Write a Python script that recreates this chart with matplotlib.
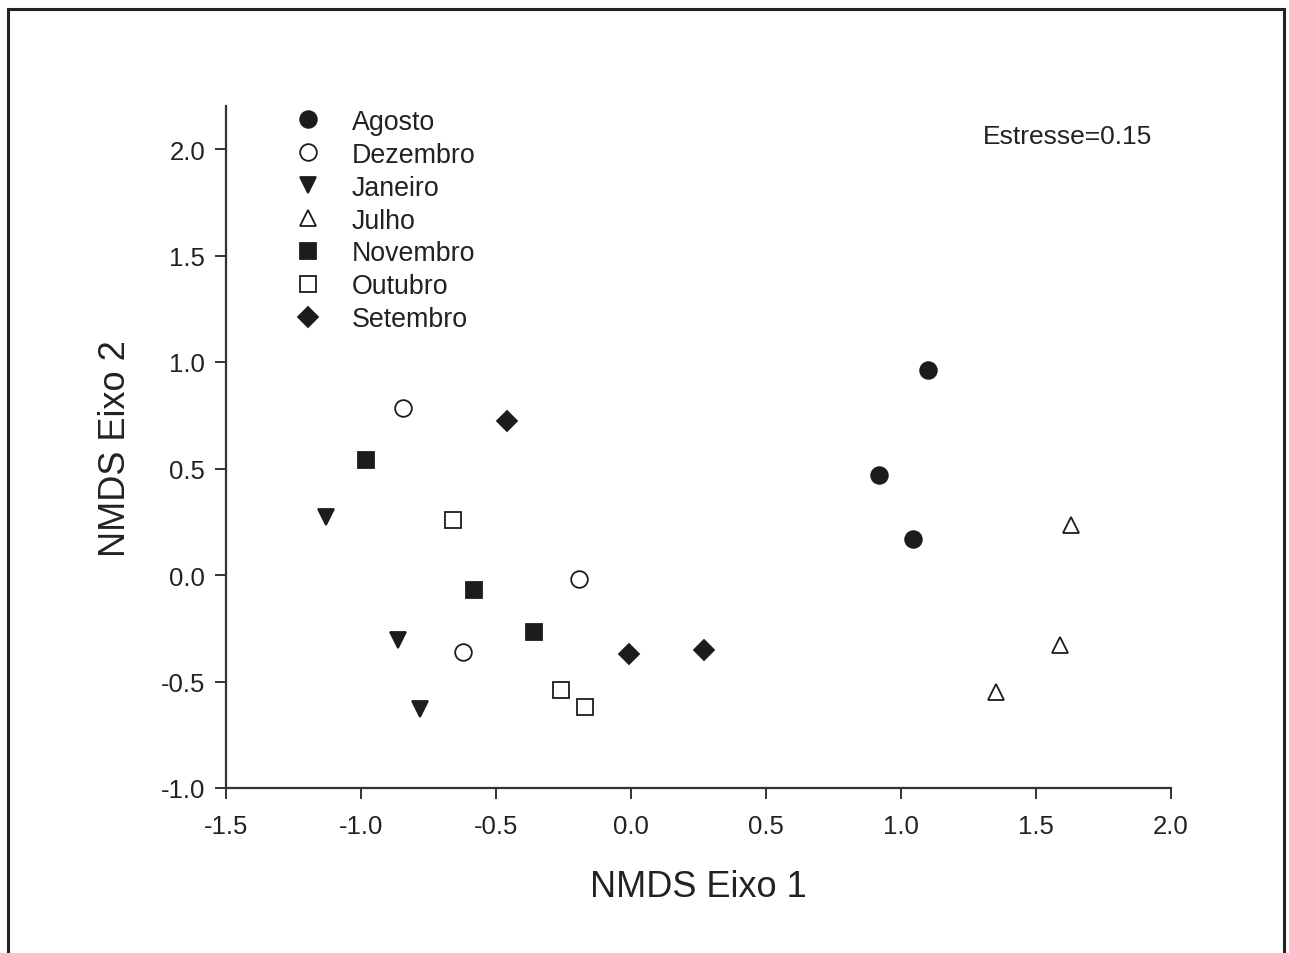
import matplotlib
matplotlib.use("Agg")
import matplotlib.pyplot as plt
from matplotlib.patches import Rectangle

plt.rcParams['font.family'] = ['Liberation Sans', 'DejaVu Sans']

months = ["Agosto", "Dezembro", "Janeiro", "Julho", "Novembro", "Outubro", "Setembro"]
x_vals = {
    "Agosto":   [1.100, 0.919, 1.044],
    "Dezembro": [-0.844, -0.193, -0.622],
    "Janeiro":  [-1.130, -0.863, -0.781],
    "Julho":    [1.630, 1.589, 1.352],
    "Novembro": [-0.981, -0.581, -0.359],
    "Outubro":  [-0.659, -0.259, -0.170],
    "Setembro": [-0.459, -0.007, 0.270],
}
y_vals = {
    "Agosto":   [0.962, 0.469, 0.169],
    "Dezembro": [0.784, -0.019, -0.362],
    "Janeiro":  [0.272, -0.305, -0.629],
    "Julho":    [0.235, -0.329, -0.549],
    "Novembro": [0.540, -0.070, -0.268],
    "Outubro":  [0.258, -0.540, -0.620],
    "Setembro": [0.723, -0.371, -0.352],
}
markers = {"Agosto": "o", "Dezembro": "o", "Janeiro": "v", "Julho": "^",
           "Novembro": "s", "Outubro": "s", "Setembro": "D"}
filled = {"Agosto": True, "Dezembro": False, "Janeiro": True, "Julho": False,
          "Novembro": True, "Outubro": False, "Setembro": True}
sizes = {"o": 12, "v": 12, "^": 12, "s": 11, "D": 10}

xticks = [-1.5, -1.0, -0.5, 0.0, 0.5, 1.0, 1.5, 2.0]
yticks = [-1.0, -0.5, 0.0, 0.5, 1.0, 1.5, 2.0]

W, H = 1289, 954
fig = plt.figure(figsize=(W / 100, H / 100), dpi=100)
ax = fig.add_axes([226 / W, 1 - 789 / H, (1171 - 226) / W, (789 - 107.4) / H])

ink = "#1c1c1c"
for m in months:
    mk = markers[m]
    ax.plot(x_vals[m], y_vals[m], linestyle="none", marker=mk,
            markersize=sizes[mk],
            markerfacecolor=ink if filled[m] else "white",
            markeredgecolor=ink, markeredgewidth=1.3, label=m)

ax.set_xlim(-1.5, 2.0)
ax.set_ylim(-1.0, 2.2)
ax.set_xticks(xticks)
ax.set_yticks(yticks)
ax.set_xticklabels([f"{t:.1f}" for t in xticks])
ax.set_yticklabels([f"{t:.1f}" for t in yticks])
for s in ["top", "right"]:
    ax.spines[s].set_visible(False)
for s in ["left", "bottom"]:
    ax.spines[s].set_color("#333333")
    ax.spines[s].set_linewidth(1.6)
ax.tick_params(direction="out", length=8, width=1.4, colors="#333333",
               labelsize=18.5, labelcolor="#222222")
ax.tick_params(axis="x", pad=11)
ax.tick_params(axis="y", pad=7)

ax.set_xlabel("NMDS Eixo 1", fontsize=26, color="#222222", labelpad=22)
ax.set_ylabel("NMDS Eixo 2", fontsize=26, color="#222222", labelpad=20)

ax.text(0.980, 0.957, "Estresse=0.15", transform=ax.transAxes,
        ha="right", va="center", fontsize=19, color="#222222")

leg = ax.legend(loc="upper left", bbox_to_anchor=(0.061, 1.0125), frameon=False,
                fontsize=19.3, handletextpad=1.15, labelspacing=0.26,
                handlelength=1.0, borderaxespad=0, markerscale=1.0)
for t in leg.get_texts():
    t.set_color("#222222")

fig.add_artist(Rectangle((8 / W, -0.02), (1284 - 8) / W, 1.02 - 10 / H,
                         transform=fig.transFigure, fill=False,
                         edgecolor="#222222", linewidth=2.2))

fig.savefig("out.png", dpi=100)
